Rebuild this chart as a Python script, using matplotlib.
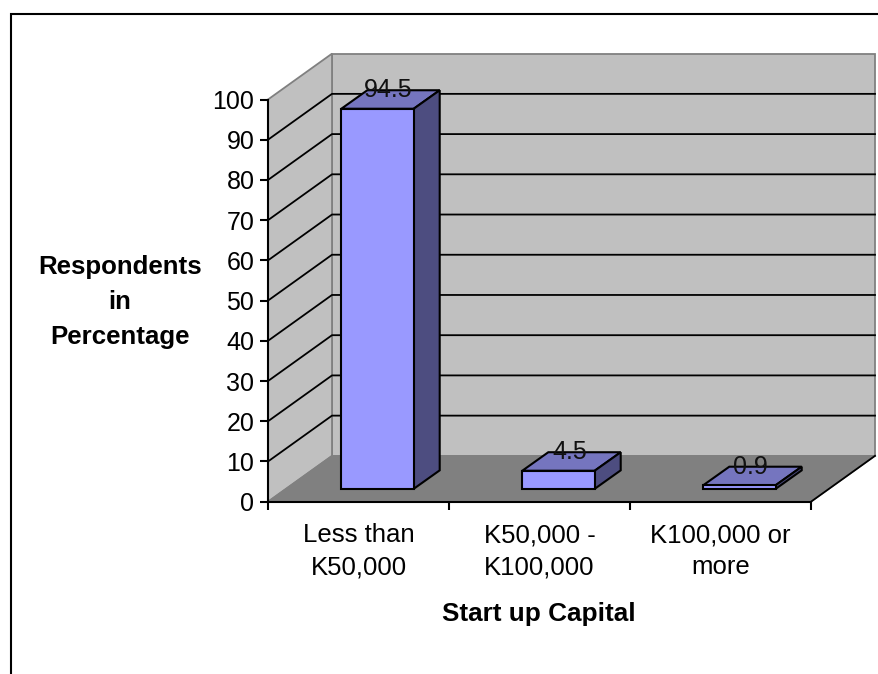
import matplotlib
matplotlib.use("Agg")
import matplotlib.pyplot as plt
from matplotlib.patches import Polygon
from matplotlib.lines import Line2D

categories = ["Less than\nK50,000", "K50,000 -\nK100,000", "K100,000 or\nmore"]
values = [94.5, 4.5, 0.9]
value_labels = ["94.5", "4.5", "0.9"]
y_ticks = list(range(0, 101, 10))
x_title = "Start up Capital"
y_title = "Respondents\nin\nPercentage"

W, H = 879, 674
plt.rcParams["font.family"] = ["Liberation Sans", "DejaVu Sans"]
fig = plt.figure(figsize=(W / 100, H / 100), dpi=100, facecolor="white")
L, R, T, B = 268, 811, 99.5, 501.7
ax = fig.add_axes([L / W, 1 - B / H, (R - L) / W, (B - T) / H])
ax.set_xlim(0, 3)
ax.set_ylim(0, 100)
ax.patch.set_visible(False)

# oblique projection offsets, in data units
BACK_X, BACK_Y = 64 / 181, 11.4
BASE_X, BASE_Y = 19 / 181, 3.2
DEPTH_X, DEPTH_Y = 26 / 181, 4.6
BAR_W = 0.4

WALL, FLOOR, EDGE = "#C0C0C0", "#808080", "#808080"
FRONT, TOP, SIDE = "#9999FF", "#7575BF", "#4D4D80"

def poly(pts, fc, ec, lw, z):
    ax.add_patch(Polygon(pts, closed=True, facecolor=fc, edgecolor=ec, linewidth=lw,
                         zorder=z, clip_on=False, joinstyle="miter"))

# walls and floor
poly([(BACK_X, BACK_Y), (3 + BACK_X, BACK_Y), (3 + BACK_X, 100 + BACK_Y), (BACK_X, 100 + BACK_Y)], WALL, EDGE, 1.3, 1)
poly([(0, 0), (BACK_X, BACK_Y), (BACK_X, 100 + BACK_Y), (0, 100)], WALL, EDGE, 1.3, 1)
poly([(0, 0), (3, 0), (3 + BACK_X, BACK_Y), (BACK_X, BACK_Y)], FLOOR, EDGE, 1.0, 1.1)
ax.add_line(Line2D([3, 3 + BACK_X], [0, BACK_Y], color="black", lw=1.3, zorder=1.2, clip_on=False))

# gridlines
for v in y_ticks[1:-1]:
    ax.add_line(Line2D([0, BACK_X, 3 + BACK_X], [v, v + BACK_Y, v + BACK_Y],
                       color="black", lw=1.3, zorder=1.5, clip_on=False))

# bars
for i, v in enumerate(values):
    x0 = i + 0.5 + BASE_X - BAR_W / 2
    x1 = x0 + BAR_W
    y0 = BASE_Y
    y1 = BASE_Y + v
    poly([(x0, y1), (x1, y1), (x1 + DEPTH_X, y1 + DEPTH_Y), (x0 + DEPTH_X, y1 + DEPTH_Y)], TOP, "black", 1.5, 3)
    poly([(x1, y0), (x1 + DEPTH_X, y0 + DEPTH_Y), (x1 + DEPTH_X, y1 + DEPTH_Y), (x1, y1)], SIDE, "black", 1.5, 3)
    poly([(x0, y0), (x1, y0), (x1, y1), (x0, y1)], FRONT, "black", 1.5, 3.1)
    ax.text(i + 0.5 + BASE_X + 0.06, y1 + DEPTH_Y, value_labels[i], ha="center", va="center",
            fontsize=18, color="#111111", zorder=4, clip_on=False)

# axes
for s in ("top", "right"):
    ax.spines[s].set_visible(False)
for s in ("left", "bottom"):
    ax.spines[s].set_linewidth(1.5)
    ax.spines[s].set_zorder(5)
ax.set_yticks(y_ticks)
ax.set_xticks([0, 1, 2, 3])
ax.set_xticklabels([])
ax.set_xticks([0.5, 1.5, 2.5], minor=True)
ax.set_xticklabels(categories, minor=True, fontsize=18.5, linespacing=1.42)
ax.tick_params(axis="y", length=5.8, width=1.5, labelsize=18, pad=4)
ax.tick_params(axis="x", which="major", length=5.8, width=1.5)
ax.tick_params(axis="x", which="minor", length=0, pad=15.5)

ax.set_xlabel(x_title, fontsize=18.8, fontweight="bold", va="center")
ax.xaxis.set_label_coords(0.499, -0.279)
ax.set_ylabel(y_title, fontsize=18.6, fontweight="bold", rotation=0, ha="center", va="center", linespacing=1.57)
ax.yaxis.set_label_coords(-0.2726, 0.497)

# outer chart frame: only top and left edges fall inside the picture
fig.add_artist(Line2D([10.5 / W, 10.5 / W, 1], [0, 1 - 13.5 / H, 1 - 13.5 / H], color="black", lw=1.5,
                      transform=fig.transFigure, solid_joinstyle="miter"))

fig.savefig("out.png", dpi=100)
